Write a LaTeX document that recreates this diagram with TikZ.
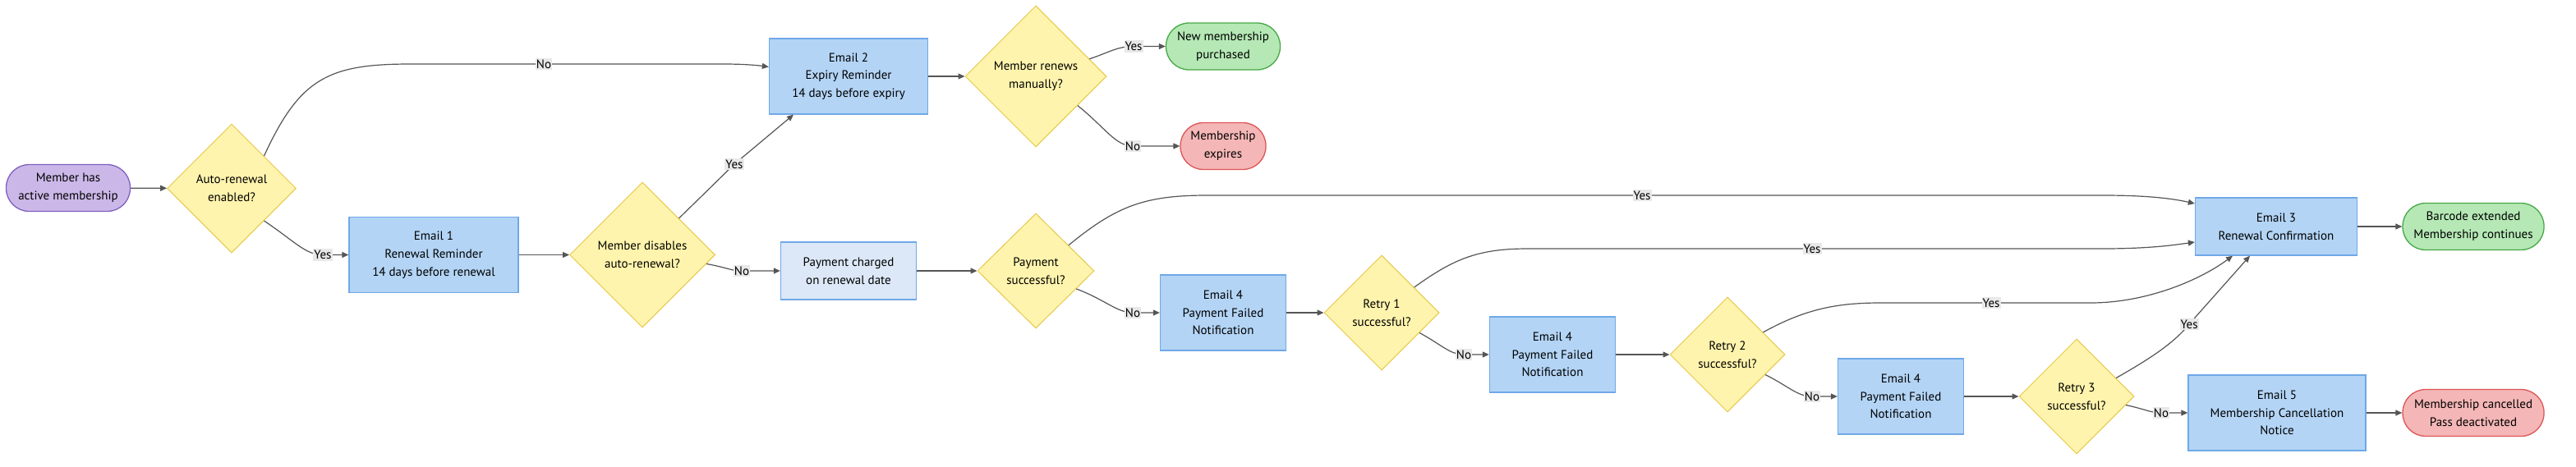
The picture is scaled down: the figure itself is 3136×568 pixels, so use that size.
\documentclass[tikz,border=0pt]{standalone}
\usepackage{fontspec}
\setmainfont{PT Sans}
\usetikzlibrary{shapes.geometric, arrows.meta}

\definecolor{dfill}{HTML}{FFF4AD}
\definecolor{ddraw}{HTML}{E6C84A}
\definecolor{bfill}{HTML}{B3D4F5}
\definecolor{bdraw}{HTML}{6FA8E8}
\definecolor{cfill}{HTML}{DCE8F7}
\definecolor{pfill}{HTML}{CBB8E8}
\definecolor{pdraw}{HTML}{8060C0}
\definecolor{gfill}{HTML}{B5E8B5}
\definecolor{gdraw}{HTML}{45A845}
\definecolor{rfill}{HTML}{F4B6B6}
\definecolor{rdraw}{HTML}{DD5555}
\definecolor{edge}{HTML}{555555}
\definecolor{lblfill}{HTML}{E8E8E8}

\begin{document}
\begin{tikzpicture}[
  x=1pt, y=-1pt,
  font=\fontsize{15}{21.7}\selectfont,
  email/.style={rectangle, draw=bdraw, fill=bfill, line width=1.3pt, align=center, inner sep=0pt, minimum width=153pt, minimum height=92pt},
  decision/.style={diamond, aspect=1, draw=ddraw, fill=dfill, line width=1pt, align=center, inner sep=0pt, minimum width=140pt, minimum height=140pt},
  pill/.style={rectangle, rounded corners=28pt, line width=1.3pt, align=center, inner sep=0pt, minimum height=57pt},
  arrow/.style={draw=edge, line width=1.2pt, -{Triangle[length=8pt, width=7pt]}},
  lbl/.style={fill=lblfill, inner xsep=1pt, inner ysep=2pt, font=\fontsize{15}{18}\selectfont}
]
  \useasboundingbox (0,0) rectangle (3136,568);

  % Start
  \node[pill, fill=pfill, draw=pdraw, minimum width=151pt] (start) at (83,229) {Member has\\active membership};
  \node[decision, minimum width=157pt, minimum height=157pt] (auto) at (282,229.5) {Auto-renewal\\enabled?};

  % Manual renewal
  \node[email, minimum width=193pt] (mail2) at (1033,93) {Email 2\\Expiry Reminder\\14 days before expiry};
  \node[decision, minimum width=172pt, minimum height=172pt] (manual) at (1261,93) {Member renews\\manually?};
  \node[pill, fill=gfill, draw=gdraw, minimum width=139pt] (newmem) at (1489,56.5) {New membership\\purchased};
  \node[pill, fill=rfill, draw=rdraw, minimum width=104pt] (expire) at (1489,178) {Membership\\expires};

  % Auto renewal
  \node[email, minimum width=206pt] (mail1) at (528,310.5) {Email 1\\Renewal Reminder\\14 days before renewal};
  \node[decision, minimum width=177pt, minimum height=177pt] (disable) at (782,310.5) {Member disables\\auto-renewal?};
  \node[email, fill=cfill, minimum width=165pt, minimum height=70pt] (charge) at (1033,330) {Payment charged\\on renewal date};
  \node[decision, minimum width=142pt] (paid) at (1261,330) {Payment\\successful?};

  % Retries
  \node[email] (fail1) at (1489,381) {Email 4\\Payment Failed\\Notification};
  \node[decision] (retry1) at (1682,381) {Retry 1\\successful?};
  \node[email] (fail2) at (1890,432) {Email 4\\Payment Failed\\Notification};
  \node[decision] (retry2) at (2103,432) {Retry 2\\successful?};
  \node[email] (fail3) at (2314,483) {Email 4\\Payment Failed\\Notification};
  \node[decision] (retry3) at (2528,483) {Retry 3\\successful?};

  % Outcomes
  \node[email, minimum width=197pt, minimum height=70pt] (mail3) at (2771,276) {Email 3\\Renewal Confirmation};
  \node[pill, fill=gfill, draw=gdraw, minimum width=172pt] (extend) at (3011,276) {Barcode extended\\Membership continues};
  \node[email, minimum width=216pt] (mail5) at (2772,503) {Email 5\\Membership Cancellation\\Notice};
  \node[pill, fill=rfill, draw=rdraw, minimum width=172pt] (cancel) at (3011,503) {Membership cancelled\\Pass deactivated};

  \draw[arrow] (start) -- (auto);
  \draw[arrow] (auto.north east) .. controls (365,95) and (400,78) .. (500,78) -- (662,78) node[lbl] {No} -- (880,78) .. controls (910,78) and (925,80) .. ([yshift=11.5pt]mail2.west);
  \draw[arrow] (auto.south east) .. controls (360,295) and (372,310.5) .. (393,310.5) node[lbl] {Yes} -- (mail1);
  \draw[arrow] (mail1) -- (disable);
  \draw[arrow] (disable.north east) -- (894,200) node[lbl] {Yes} -- ([xshift=-67pt]mail2.south);
  \draw[arrow] (disable.-8) .. controls (885,326) and (890,330) .. (903,330) node[lbl] {No} -- (charge);

  \draw[arrow] (mail2) -- (manual);
  \draw[arrow] (manual.18) .. controls (1350,64) and (1360,56.5) .. (1380,56.5) node[lbl] {Yes} -- (newmem);
  \draw[arrow] (manual.-35) .. controls (1345,155) and (1358,178) .. (1379,178) node[lbl] {No} -- (expire);

  \draw[arrow] (charge) -- (paid);
  \draw[arrow] (paid.38) .. controls (1360,250) and (1395,238) .. (1470,238) -- (1999,238) node[lbl] {Yes} -- (2560,238) .. controls (2615,238) and (2645,242) .. ([yshift=28pt]mail3.west);
  \draw[arrow] (paid.-24) .. controls (1345,365) and (1360,381) .. (1379,381) node[lbl] {No} -- (fail1);

  \draw[arrow] (fail1) -- (retry1);
  \draw[arrow] (retry1.38) .. controls (1770,315) and (1800,303) .. (1860,303) -- (2206,303) node[lbl] {Yes} -- (2560,303) .. controls (2620,303) and (2650,298) .. ([yshift=-19pt]mail3.west);
  \draw[arrow] (retry1.-28) .. controls (1755,420) and (1765,432) .. (1782,432) node[lbl] {No} -- (fail2);

  \draw[arrow] (fail2) -- (retry2);
  \draw[arrow] (retry2.32) .. controls (2200,375) and (2240,369) .. (2290,369) -- (2424,369) node[lbl] {Yes} -- (2545,369) .. controls (2615,369) and (2680,340) .. ([xshift=-53pt]mail3.south);
  \draw[arrow] (retry2.-28) .. controls (2178,471) and (2188,483) .. (2206,483) node[lbl] {No} -- (fail3);

  \draw[arrow] (fail3) -- (retry3);
  \draw[arrow] (retry3.25) .. controls (2612,440) and (2645,420) .. (2665,395) node[lbl] {Yes} -- ([xshift=-32pt]mail3.south);
  \draw[arrow] (retry3.-10) .. controls (2610,498) and (2618,503) .. (2631,503) node[lbl] {No} -- (mail5);

  \draw[arrow] (mail3) -- (extend);
  \draw[arrow] (mail5) -- (cancel);
\end{tikzpicture}
\end{document}
